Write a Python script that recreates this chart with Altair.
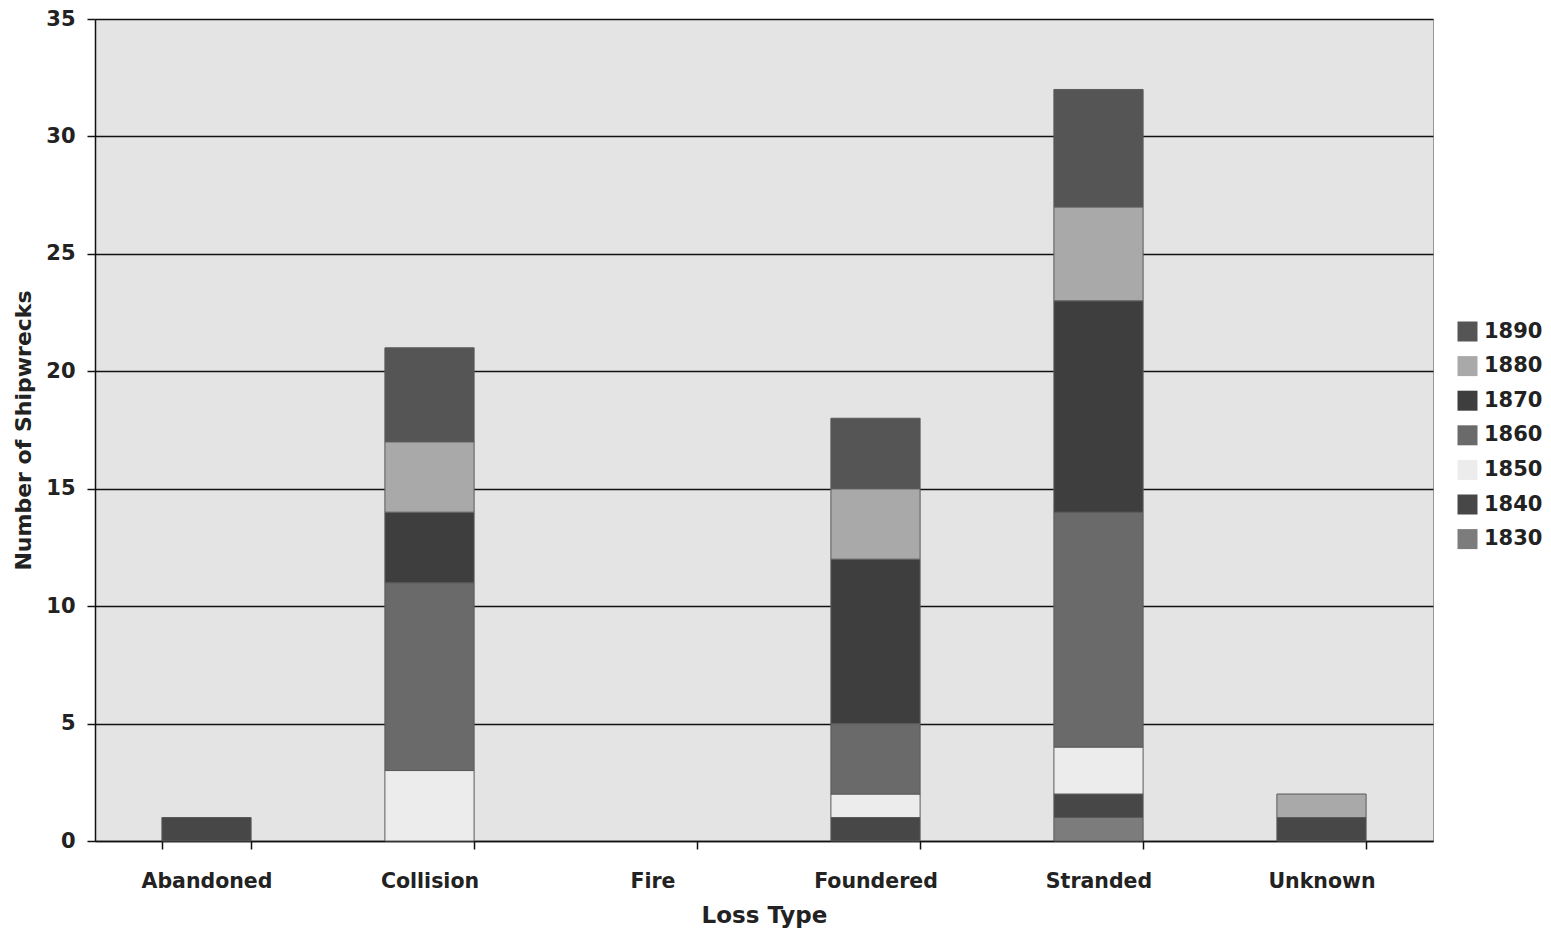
import altair as alt
import pandas as pd

loss_types = ["Abandoned", "Collision", "Fire", "Foundered", "Stranded", "Unknown"]
decades = ["1830", "1840", "1850", "1860", "1870", "1880", "1890"]
# counts per decade, in loss_types order
d1830 = [0, 0, 0, 0, 1, 0]
d1840 = [1, 0, 0, 1, 1, 1]
d1850 = [0, 3, 0, 1, 2, 0]
d1860 = [0, 8, 0, 3, 10, 0]
d1870 = [0, 3, 0, 7, 9, 0]
d1880 = [0, 3, 0, 3, 4, 1]
d1890 = [0, 4, 0, 3, 5, 0]
series = [d1830, d1840, d1850, d1860, d1870, d1880, d1890]

colors = {
    "1890": "#555555",
    "1880": "#a9a9a9",
    "1870": "#3e3e3e",
    "1860": "#6a6a6a",
    "1850": "#ececec",
    "1840": "#474747",
    "1830": "#7c7c7c",
}

rows = []
for i, (dec, vals) in enumerate(zip(decades, series)):
    for lt, v in zip(loss_types, vals):
        rows.append({"Loss Type": lt, "Decade": dec, "Count": v, "ord": i})
df = pd.DataFrame(rows)

legend_order = decades[::-1]
FONT = "DejaVu Sans"

chart = alt.Chart(df).transform_filter(
    alt.datum.Count > 0
).mark_bar(stroke="#5a5a5a", strokeWidth=1).encode(
    x=alt.X("Loss Type:N", sort=loss_types,
            scale=alt.Scale(domain=loss_types, paddingInner=0.6, paddingOuter=0.3),
            axis=alt.Axis(title="Loss Type", labelAngle=0, tickBand="extent",
                          labelFontSize=20.5, labelFontWeight="bold", labelColor="#222",
                          titleFontSize=23, titleFontWeight="bold", titleColor="#222",
                          labelPadding=22, titlePadding=13,
                          domainColor="#111", tickColor="#111", tickSize=8,
                          domainWidth=1.5, tickWidth=1.5, grid=False)),
    y=alt.Y("Count:Q", stack="zero",
            scale=alt.Scale(domain=[0, 35], nice=False),
            axis=alt.Axis(title="Number of Shipwrecks", values=[0, 5, 10, 15, 20, 25, 30, 35],
                          labelFontSize=21, labelFontWeight="bold", labelColor="#222",
                          titleFontSize=22, titleFontWeight="bold", titleColor="#222",
                          titlePadding=10, labelPadding=12,
                          domainColor="#111", tickColor="#111", tickSize=8,
                          domainWidth=1.5, tickWidth=1.5,
                          grid=True, gridColor="#111", gridWidth=1.5)),
    color=alt.Color("Decade:N",
                    scale=alt.Scale(domain=legend_order, range=[colors[d] for d in legend_order]),
                    legend=alt.Legend(title=None, orient="none", legendX=1362, legendY=302,
                                      symbolType="square", symbolSize=400, symbolStrokeWidth=0,
                                      labelFontSize=21, labelFontWeight="bold", labelColor="#222",
                                      rowPadding=12.6, labelOffset=6)),
    order=alt.Order("ord:Q", sort="ascending"),
).properties(
    width=1338, height=822,
    autosize=alt.AutoSizeParams(type="none"),
    padding={"left": 87, "top": 11, "right": 110, "bottom": 92},
).configure(
    font=FONT, background="#ffffff"
).configure_view(
    fill="#e4e4e4", stroke="#999999", strokeWidth=1
)

chart.save("out.html", embed_options={"renderer": "svg", "actions": False})
